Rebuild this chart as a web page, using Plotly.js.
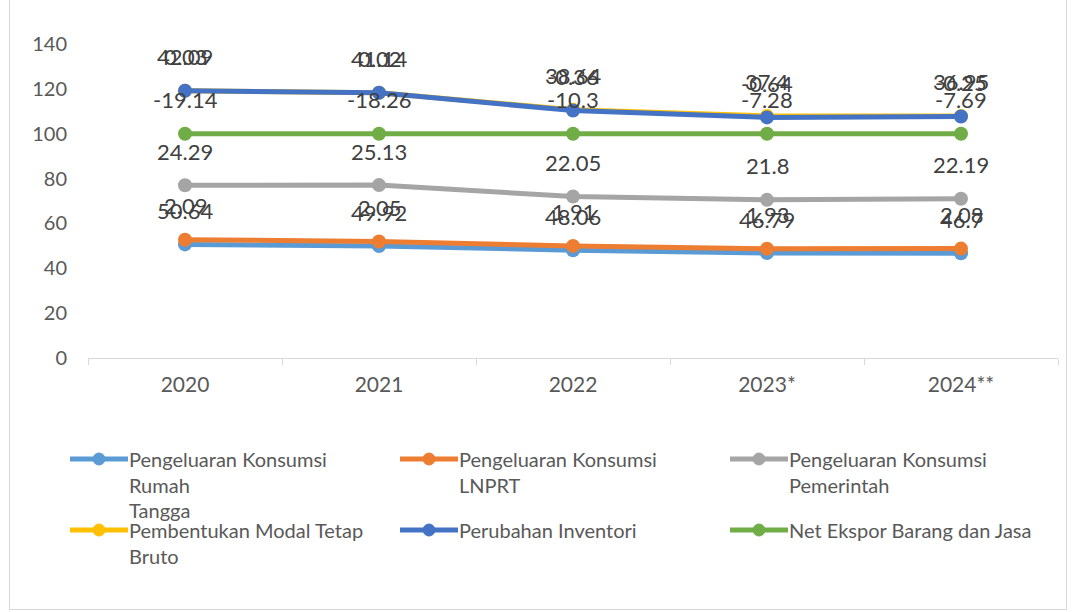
<!DOCTYPE html>
<html>
<head>
<meta charset="utf-8">
<script src="https://cdn.plot.ly/plotly-3.0.1.min.js"></script>
<style>
  html, body { margin:0; padding:0; background:#fff; }
  #wrap { position:relative; width:1072px; height:612px; }
  #chart { width:1072px; height:612px; }
  #frame { position:absolute; left:9px; top:-1px; width:1058px; height:611px; border:1px solid #d9d9d9; pointer-events:none; box-sizing:border-box; }
</style>
</head>
<body>
<div id="wrap"><div id="chart"></div><div id="frame"></div></div>
<script>
// ---- data ----
var years = ["2020", "2021", "2022", "2023*", "2024**"];
var rumahTangga = [50.64, 49.92, 48.06, 46.79, 46.7];
var lnprt = [2.09, 2.05, 1.91, 1.93, 2.08];
var pemerintah = [24.29, 25.13, 22.05, 21.8, 22.19];
var pmtb = [42.09, 41.14, 38.64, 37.4, 36.95];
var inventori = [0.03, 0.02, -0.36, -0.64, -0.25];
var netEkspor = [-19.14, -18.26, -10.3, -7.28, -7.69];

var seriesNames = [
  ["Pengeluaran Konsumsi", "Rumah", "Tangga"],
  ["Pengeluaran Konsumsi", "LNPRT"],
  ["Pengeluaran Konsumsi", "Pemerintah"],
  ["Pembentukan Modal Tetap", "Bruto"],
  ["Perubahan Inventori"],
  ["Net Ekspor Barang dan Jasa"]
];
var seriesValues = [rumahTangga, lnprt, pemerintah, pmtb, inventori, netEkspor];
var colors = ["#5B9BD5", "#ED7D31", "#A5A5A5", "#FFC000", "#4472C4", "#70AD47"];

var FONT = "Lato, 'Open Sans', sans-serif";
var ML = 88, MR = 14, MT = 44, MB = 254, W = 1072, H = 612;
var PW = W - ML - MR, PH = H - MT - MB;
function px2x(px) { return (px - ML) / PW; }
function py2y(py) { return (H - MB - py) / PH; }

var traces = [];
var annotations = [];
var cum = years.map(function(){ return 0; });
seriesValues.forEach(function(vals, i) {
  traces.push({
    type: "scatter",
    mode: "lines+markers",
    x: years,
    y: vals,
    stackgroup: "one",
    fill: "none",
    name: seriesNames[i].join(" "),
    line: { color: colors[i], width: 5 },
    marker: { color: colors[i], size: 14 },
    showlegend: false,
    hoverinfo: "x+y+name"
  });
  vals.forEach(function(v, j) {
    cum[j] += v;
    annotations.push({
      x: j, y: cum[j], xref: "x", yref: "y",
      text: String(v), showarrow: false, yshift: 34,
      font: { family: FONT, size: 22, color: "#404040" }
    });
  });
});

// manual legend
var shapes = [];
var legendPos = [
  [70, 459], [400, 459], [730, 459],
  [70, 530], [400, 530], [730, 530]
];
seriesNames.forEach(function(lines, i) {
  var lx = legendPos[i][0], ly = legendPos[i][1];
  shapes.push({
    type: "line", xref: "paper", yref: "paper",
    x0: px2x(lx), x1: px2x(lx + 58), y0: py2y(ly), y1: py2y(ly),
    line: { color: colors[i], width: 5 }
  });
  var r = 6;
  shapes.push({
    type: "circle", xref: "paper", yref: "paper",
    x0: px2x(lx + 29 - r), x1: px2x(lx + 29 + r),
    y0: py2y(ly + r), y1: py2y(ly - r),
    fillcolor: colors[i], line: { color: colors[i], width: 1 }
  });
  lines.forEach(function(t, k) {
    annotations.push({
      xref: "paper", yref: "paper",
      x: px2x(lx + 57), y: py2y(ly + k * 25.5),
      xanchor: "left", yanchor: "middle",
      text: t, showarrow: false,
      font: { family: FONT, size: 20, color: "#595959" }
    });
  });
});

var layout = {
  width: W, height: H,
  margin: { l: ML, r: MR, t: MT, b: MB },
  paper_bgcolor: "#ffffff",
  plot_bgcolor: "#ffffff",
  showlegend: false,
  font: { family: FONT, color: "#595959" },
  xaxis: {
    type: "category",
    range: [-0.5, 4.5],
    showgrid: false,
    zeroline: false,
    showline: true,
    linecolor: "#d9d9d9",
    linewidth: 1,
    ticks: "outside",
    tickson: "boundaries",
    ticklen: 6,
    tickcolor: "#d9d9d9",
    tickfont: { family: FONT, size: 21, color: "#595959" },
    ticklabelstandoff: 8
  },
  yaxis: {
    range: [0, 140],
    dtick: 20,
    showgrid: false,
    zeroline: false,
    showline: false,
    ticks: "",
    tickfont: { family: FONT, size: 20, color: "#595959" },
    ticklabelstandoff: 20
  },
  annotations: annotations,
  shapes: shapes
};

Plotly.newPlot("chart", traces, layout, { displayModeBar: false, staticPlot: true });
</script>
</body>
</html>
